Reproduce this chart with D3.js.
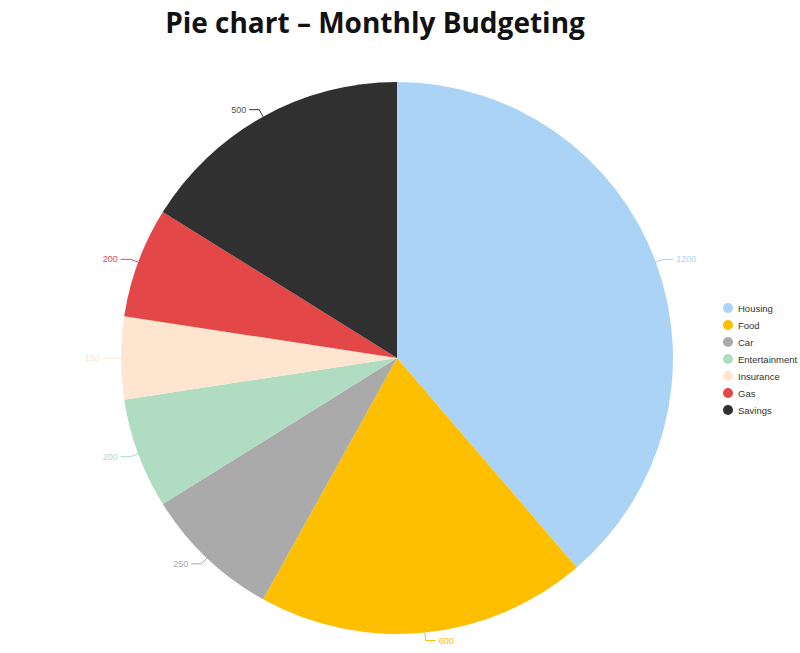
<!DOCTYPE html>
<html><head><meta charset="utf-8">
<script src="https://cdn.jsdelivr.net/npm/d3@7"></script>
<style>body{margin:0;background:#fff}</style></head>
<body><svg id="c" width="800" height="653"></svg>
<script>
const categories = ["Housing","Food","Car","Entertainment","Insurance","Gas","Savings"];
const values = [1200,600,250,200,150,200,500];
const colors = ["#abd3f5","#fdbf00","#aaaaaa","#b0dcc2","#fde5d0","#e34747","#303030"];

const svg = d3.select("#c");
const cx = 397, cy = 358, r = 276;
svg.append("text").attr("x",375).attr("y",33).attr("text-anchor","middle")
  .attr("font-family","'Open Sans',sans-serif").attr("font-weight","bold").attr("font-size",28)
  .attr("fill","#111").text("Pie chart – Monthly Budgeting");

const data = categories.map((c,i)=>({c,v:values[i],col:colors[i]}));
const pie = d3.pie().value(d=>d.v).sort(null);
const arcs = pie(data);
const arc = d3.arc().innerRadius(0).outerRadius(r);
const g = svg.append("g").attr("transform",`translate(${cx},${cy})`);
g.selectAll("path").data(arcs).enter().append("path").attr("d",arc).attr("fill",d=>d.data.col);

arcs.forEach(a=>{
  const m = (a.startAngle+a.endAngle)/2;
  const s = Math.sin(m), c = -Math.cos(m);
  const p0=[s*r,c*r], p1=[s*(r+8),c*(r+8)];
  const dir = s>=0?1:-1;
  const p2=[p1[0]+dir*10,p1[1]];
  g.append("polyline").attr("points",[p0,p1,p2].map(p=>p.join(",")).join(" "))
    .attr("fill","none").attr("stroke",a.data.col).attr("stroke-width",1);
  g.append("text").attr("x",p2[0]+dir*3).attr("y",p2[1]+3)
    .attr("text-anchor",dir>0?"start":"end").attr("font-family","Arial,sans-serif")
    .attr("font-size",9).attr("fill",a.data.col==="#303030"?"#555":a.data.col).text(a.data.v);
});

const lg = svg.append("g");
data.forEach((d,i)=>{
  const y = 308 + i*17;
  lg.append("circle").attr("cx",728).attr("cy",y).attr("r",5).attr("fill",d.col);
  lg.append("text").attr("x",738).attr("y",y+3.5).attr("font-family","Arial,sans-serif")
    .attr("font-size",9.5).attr("fill","#333").text(d.c);
});
</script></body></html>
